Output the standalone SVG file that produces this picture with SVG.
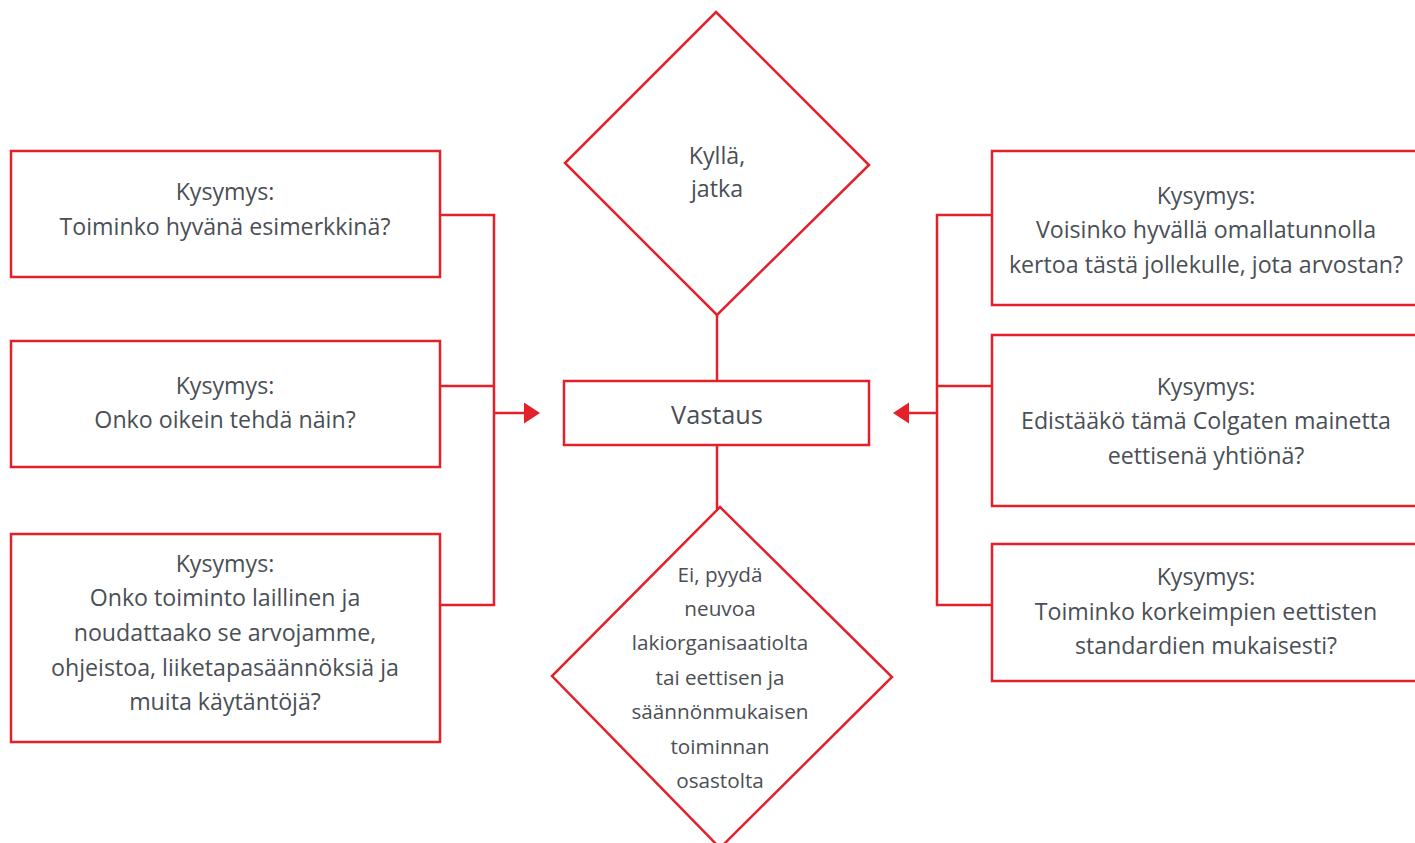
<svg xmlns="http://www.w3.org/2000/svg" width="1415" height="843" viewBox="0 0 1415 843">
<defs>
<style>
.box{fill:#ffffff;stroke:#e4202a;stroke-width:2.5}
.ln{fill:none;stroke:#e4202a;stroke-width:2.5}
.ah{fill:#e4202a;stroke:none}
.t{font-family:"Open Sans","Noto Sans","Liberation Sans",sans-serif;font-size:23.2px;fill:#4a4f56;text-anchor:middle}
.tv{font-size:25.3px}
.ts{font-size:20.7px}
</style>
</defs>
<rect width="1415" height="843" fill="#ffffff"/>
<g id="connectors">
<polyline class="ln" points="440,215 494,215 494,605 440,605"/>
<line class="ln" x1="440" y1="386" x2="494" y2="386"/>
<line class="ln" x1="494" y1="413" x2="526" y2="413"/>
<polygon class="ah" points="524,402.5 540,413 524,423.5"/>
<polyline class="ln" points="992,215 937,215 937,605 992,605"/>
<line class="ln" x1="937" y1="386" x2="992" y2="386"/>
<line class="ln" x1="937" y1="413" x2="907" y2="413"/>
<polygon class="ah" points="909,402.5 893,413 909,423.5"/>
<line class="ln" x1="717" y1="315" x2="717" y2="381"/>
<line class="ln" x1="717" y1="445" x2="717" y2="509"/>
</g>
<g id="yes">
<polygon class="box" points="716,12 869,165 717,315 565,163"/>
<text class="t"><tspan x="717" y="164">Kyllä,</tspan><tspan x="717" y="197">jatka</tspan></text>
</g>
<g id="vastaus">
<rect class="box" x="564" y="381" width="305" height="64"/>
<text class="t tv" x="717" y="424">Vastaus</text>
</g>
<g id="no">
<polygon class="box" points="720,507 892,677 720,848 552,676"/>
<text class="t ts"><tspan x="720" y="582">Ei, pyydä</tspan><tspan x="720" y="616">neuvoa</tspan><tspan x="720" y="650">lakiorganisaatiolta</tspan><tspan x="720" y="685">tai eettisen ja</tspan><tspan x="720" y="719">säännönmukaisen</tspan><tspan x="720" y="754">toiminnan</tspan><tspan x="720" y="788">osastolta</tspan></text>
</g>
<g id="q1">
<rect class="box" x="11" y="151" width="429" height="126"/>
<text class="t"><tspan x="225" y="200">Kysymys:</tspan><tspan x="225" y="235">Toiminko hyvänä esimerkkinä?</tspan></text>
</g>
<g id="q2">
<rect class="box" x="11" y="341" width="429" height="126"/>
<text class="t"><tspan x="225" y="394">Kysymys:</tspan><tspan x="225" y="428">Onko oikein tehdä näin?</tspan></text>
</g>
<g id="q3">
<rect class="box" x="11" y="534" width="429" height="208"/>
<text class="t"><tspan x="225" y="572">Kysymys:</tspan><tspan x="225" y="606">Onko toiminto laillinen ja</tspan><tspan x="225" y="641">noudattaako se arvojamme,</tspan><tspan x="225" y="676">ohjeistoa, liiketapasäännöksiä ja</tspan><tspan x="225" y="710">muita käytäntöjä?</tspan></text>
</g>
<g id="q4">
<rect class="box" x="992" y="151" width="440" height="154"/>
<text class="t"><tspan x="1206" y="204">Kysymys:</tspan><tspan x="1206" y="238">Voisinko hyvällä omallatunnolla</tspan><tspan x="1206" y="273">kertoa tästä jollekulle, jota arvostan?</tspan></text>
</g>
<g id="q5">
<rect class="box" x="992" y="335" width="440" height="171"/>
<text class="t"><tspan x="1206" y="395">Kysymys:</tspan><tspan x="1206" y="429">Edistääkö tämä Colgaten mainetta</tspan><tspan x="1206" y="464">eettisenä yhtiönä?</tspan></text>
</g>
<g id="q6">
<rect class="box" x="992" y="544" width="440" height="137"/>
<text class="t"><tspan x="1206" y="585">Kysymys:</tspan><tspan x="1206" y="620">Toiminko korkeimpien eettisten</tspan><tspan x="1206" y="654">standardien mukaisesti?</tspan></text>
</g>
</svg>
